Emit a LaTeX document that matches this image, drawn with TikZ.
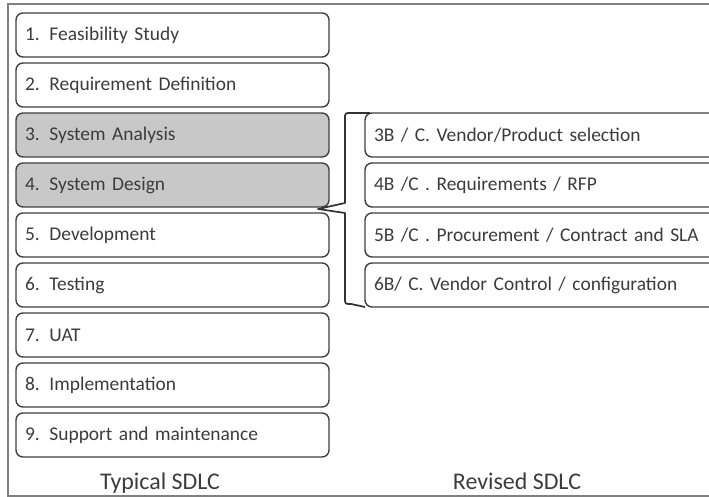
\documentclass[tikz,border=0pt]{standalone}
\usepackage{fontspec}
\setmainfont{Carlito}
\usepackage{tikz}
\usetikzlibrary{positioning}

\definecolor{inkgray}{HTML}{404040}
\definecolor{textgray}{HTML}{3C3C3C}
\definecolor{shadegray}{HTML}{C8C8C8}

\begin{document}
\begin{tikzpicture}[x=1bp, y=1bp,
    stage/.style={draw=inkgray, line width=1.4bp, rounded corners=7bp, fill=white,
        text=textgray, anchor=north west, outer sep=0pt, inner xsep=9bp, text width=295bp,
        align=left, minimum height=44bp, font=\fontsize{19.5}{22}\selectfont},
    revstage/.style={stage, text width=342bp},
    shaded/.style={fill=shadegray},
    caption/.style={text=textgray, anchor=base, font=\fontsize{24}{26}\selectfont},
    bracket/.style={draw=black!80, line width=1.7bp, line join=round}]
    \clip (0,0) rectangle (709,497);
    \draw[gray, line width=1.2bp] (8,1) rectangle (730,493);
    % typical SDLC
    \node[stage] (s1) at (16,484) {1. Feasibility Study};
    \node[stage, below=6bp of s1.south west, anchor=north west] (s2) {2. Requirement Definition};
    \node[stage, shaded, below=6bp of s2.south west, anchor=north west] (s3) {3. System Analysis};
    \node[stage, shaded, below=6bp of s3.south west, anchor=north west] (s4) {4. System Design};
    \node[stage, below=6bp of s4.south west, anchor=north west] (s5) {5. Development};
    \node[stage, below=6bp of s5.south west, anchor=north west] (s6) {6. Testing};
    \node[stage, below=6bp of s6.south west, anchor=north west] (s7) {7. UAT};
    \node[stage, below=6bp of s7.south west, anchor=north west] (s8) {8. Implementation};
    \node[stage, below=6bp of s8.south west, anchor=north west] (s9) {9. Support and maintenance};
    % revised SDLC
    \node[revstage] (r3) at (365,384) {3B / C. Vendor/Product selection};
    \node[revstage, below=6bp of r3.south west, anchor=north west] (r4) {4B /C . Requirements / RFP};
    \node[revstage, below=6bp of r4.south west, anchor=north west] (r5) {5B /C . Procurement / Contract and SLA};
    \node[revstage, below=6bp of r5.south west, anchor=north west] (r6) {6B/ C. Vendor Control / configuration};
    % bracket
    \coordinate (tip) at (318,288);
    \draw[bracket] ([xshift=5bp]r3.north west) -- (351,384) .. controls (345,384) .. (345,378)
        -- (345,294) -- (tip) -- (345,284) -- (345,199) .. controls (345,193) .. (351,193)
        -- (r6.south west);
    % captions
    \node[caption] (typ) at (160,7) {Typical SDLC};
    \node[caption] (rev) at (517,7) {Revised SDLC};
\end{tikzpicture}
\end{document}
